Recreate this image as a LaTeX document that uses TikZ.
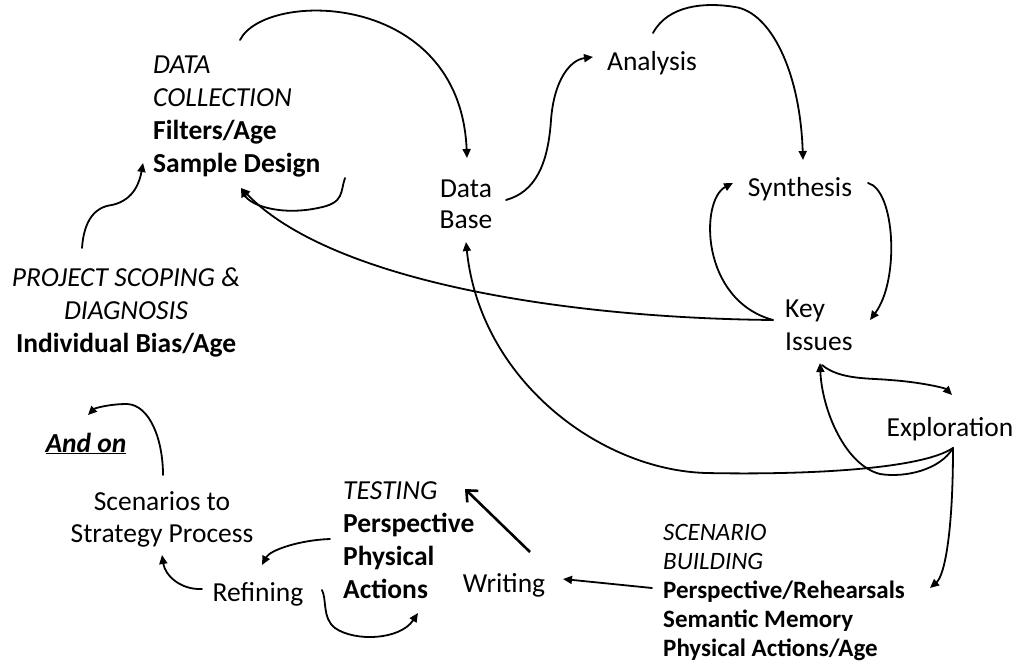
\documentclass[tikz,border=0pt]{standalone}
\usepackage{fontspec}
\setmainfont{Carlito}
\usetikzlibrary{arrows.meta}
\begin{document}
\begin{tikzpicture}[x=1pt,y=-1pt,
  lbl/.style={inner sep=0pt, font=\fontsize{27.5}{33}\selectfont},
  lblsm/.style={inner sep=0pt, font=\fontsize{25}{29}\selectfont},
  conn/.style={line width=1.8pt, line cap=round, -{Triangle[length=9pt,width=8pt]}},
  bigconn/.style={line width=2.6pt, -{Straight Barb[length=9pt,width=16pt,line width=2.6pt]}}]
\useasboundingbox (0,0) rectangle (1020,666);
% ---------- nodes (base anchor = baseline of last line) ----------
\node[lbl, anchor=base west, align=left] (dc) at (153,172)
  {\textit{DATA}\\\textit{COLLECTION}\\\textbf{Filters/Age}\\\textbf{Sample Design}};
\node[lbl, anchor=base, align=center] (ps) at (126,352)
  {\textit{PROJECT SCOPING \&}\\\textit{DIAGNOSIS}\\\textbf{Individual Bias/Age}};
\node[lbl, anchor=base, align=center, font=\fontsize{27.5}{31}\selectfont] (db) at (466,228) {Data\\Base};
\node[lbl, anchor=base] (an) at (652,71) {Analysis};
\node[lbl, anchor=base] (sy) at (800,196) {Synthesis};
\node[lbl, anchor=base west, align=left] (ki) at (785,350) {Key\\Issues};
\node[lbl, anchor=base] (ex) at (950,436) {Exploration};
\node[lbl, anchor=base] (ao) at (86,452) {\textbf{\textit{\underline{And on}}}};
\node[lbl, anchor=base, align=center, font=\fontsize{27.5}{32}\selectfont] (ss) at (162,542) {Scenarios to\\Strategy Process};
\node[lbl, anchor=base] (rf) at (258,601) {Refining};
\node[lbl, anchor=base west, align=left] (te) at (343,598)
  {\textit{TESTING}\\\textbf{Perspective}\\\textbf{Physical}\\\textbf{Actions}};
\node[lbl, anchor=base] (wr) at (504,592) {Writing};
\node[lblsm, anchor=base west, align=left] (sb) at (663,656)
  {\textit{SCENARIO}\\\textit{BUILDING}\\\textbf{Perspective/Rehearsals}\\\textbf{Semantic Memory}\\\textbf{Physical Actions/Age}};
% ---------- connector end points ----------
\coordinate (psOut) at (82,248);
\coordinate (dcIn) at (143,163);
\coordinate (dcOut) at (240,40);
\coordinate (dbIn) at (467,158);
\coordinate (dcHook) at (345,178);
\coordinate (dcIn2) at (241,188);
\coordinate (kiOut) at (773,320);
\coordinate (dbOut) at (506,200);
\coordinate (anIn) at (593,57);
\coordinate (anOut) at (653,33);
\coordinate (syIn) at (803,160);
\coordinate (syOut) at (868,183);
\coordinate (kiIn) at (870,320);
\coordinate (syIn2) at (733,183);
\coordinate (kiOut2) at (822,365);
\coordinate (exIn) at (952,395);
\coordinate (exOut) at (953,448);
\coordinate (kiIn2) at (820,363);
\coordinate (dbIn2) at (466,242);
\coordinate (sbIn) at (930,588);
\coordinate (sbOut) at (652,588);
\coordinate (wrIn) at (563,579);
\coordinate (wrOut) at (530,552);
\coordinate (teIn) at (465,489);
\coordinate (teOut) at (330,539);
\coordinate (rfIn) at (262,565);
\coordinate (rfOut) at (322,590);
\coordinate (teIn2) at (418,613);
\coordinate (rfOut2) at (202,589);
\coordinate (ssIn) at (162,555);
\coordinate (ssOut) at (163,475);
\coordinate (aoIn) at (88,415);
% ---------- connectors ----------
\draw[conn] (psOut) .. controls (84,220) and (95,207) .. (112,205)
  .. controls (135,200) and (140,180) .. (dcIn);
\draw[conn] (dcOut) .. controls (265,-10) and (460,-10) .. (dbIn);
\draw[conn] (dcHook) .. controls (340,192) and (345,203) .. (318,208)
  .. controls (280,216) and (250,205) .. (dcIn2);
\draw[conn] (kiOut) .. controls (560,318) and (330,280) .. (dcIn2);
\draw[conn] (dbOut) .. controls (535,192) and (548,165) .. (551,120)
  .. controls (554,80) and (570,60) .. (anIn);
\draw[conn] (anOut) .. controls (668,5) and (705,2) .. (735,7)
  .. controls (770,12) and (800,70) .. (syIn);
\draw[conn] (syOut) .. controls (895,190) and (900,280) .. (kiIn);
\draw[conn] (kiOut) .. controls (700,300) and (700,200) .. (syIn2);
\draw[conn] (kiOut2) .. controls (840,380) and (870,378) .. (890,380)
  .. controls (920,382) and (945,388) .. (exIn);
\draw[conn] (exOut) .. controls (940,470) and (905,478) .. (880,474)
  .. controls (845,465) and (822,410) .. (kiIn2);
\draw[conn] (exOut) .. controls (920,470) and (800,475) .. (706,473)
  .. controls (600,470) and (480,380) .. (dbIn2);
\draw[conn] (exOut) .. controls (953,530) and (945,575) .. (sbIn);
\draw[conn] (sbOut) -- (wrIn);
\draw[bigconn] (wrOut) -- (teIn);
\draw[conn] (teOut) .. controls (300,540) and (270,550) .. (rfIn);
\draw[conn] (rfOut) .. controls (327,600) and (322,618) .. (335,628)
  .. controls (355,642) and (400,640) .. (teIn2);
\draw[conn] (rfOut2) .. controls (180,590) and (165,575) .. (ssIn);
\draw[conn] (ssOut) .. controls (163,440) and (150,405) .. (127,404)
  .. controls (110,404) and (95,408) .. (aoIn);
\end{tikzpicture}
\end{document}
